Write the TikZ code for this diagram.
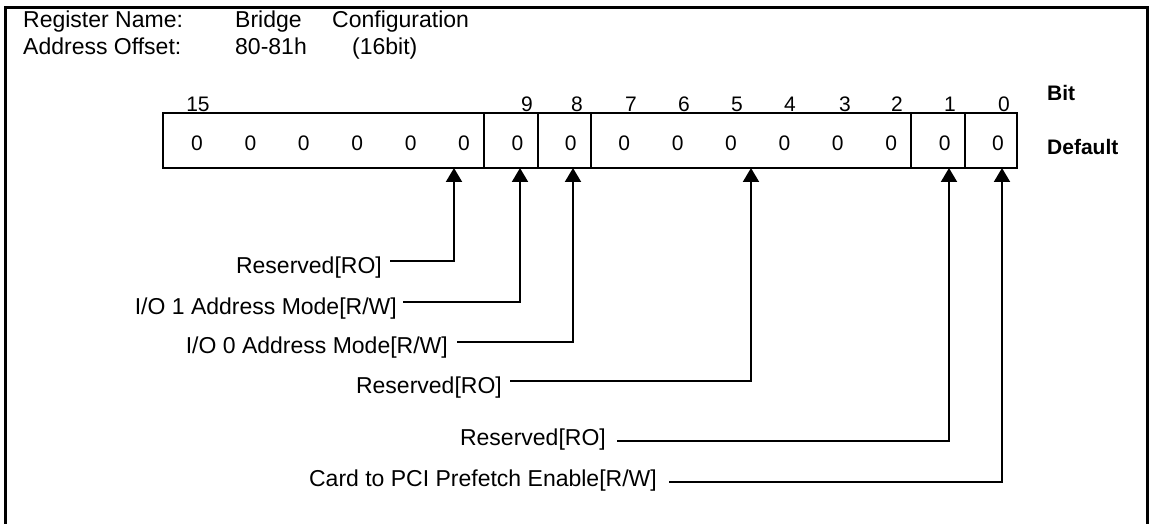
\documentclass[tikz,border=0pt]{standalone}
\usepackage{fontspec}
\setmainfont{Liberation Sans}
\usetikzlibrary{arrows.meta}
\begin{document}
\begin{tikzpicture}[x=1pt,y=-1pt,
  lbl/.style={font=\fontsize{23}{27}\selectfont, inner sep=0pt, anchor=base east},
  hdr/.style={font=\fontsize{23}{27}\selectfont, inner sep=0pt, anchor=base west},
  dig/.style={font=\fontsize{21}{25}\selectfont, inner sep=0pt, anchor=base},
  bld/.style={font=\fontsize{21}{25}\selectfont\bfseries, inner sep=0pt, anchor=base west},
  conn/.style={line width=2pt, -{Triangle[width=16pt,length=14pt]}},
  boxline/.style={line width=2pt}]
\useasboundingbox (0,0) rectangle (1149,524);
% outer frame (open at the bottom)
\draw[line width=3pt] (5,524) -- (5,8) -- (1147,8) -- (1147,524);
% header
\node[hdr] (rn) at (23,28) {Register Name:};
\node[hdr] (rv1) at (235,28) {Bridge};
\node[hdr] (rv2) at (332,28) {Configuration};
\node[hdr] (ao) at (23,55) {Address Offset:};
\node[hdr] (av1) at (235,55) {80-81h};
\node[hdr] (av2) at (352,55) {(16bit)};
% register box
\draw[boxline] (163,113) rectangle (1017,168);
\foreach \x in {484,538,591,911,965} \draw[boxline] (\x,113) -- (\x,168);
% bit numbers
\foreach \b/\x in {15/198,9/527,8/577,7/631,6/684,5/737,4/790,3/845,2/897,1/950,0/1004}
  \node[dig] (b\b) at (\x,112) {\b};
% default values
\foreach \i in {0,...,15} \node[dig] (v\i) at ({197+53.4*\i},150) {0};
\node[bld] (bit) at (1047,101) {Bit};
\node[bld] (def) at (1047,155) {Default};
% field labels
\node[lbl] (l1) at (382,273) {Reserved[RO]};
\node[lbl] (l2) at (397,314) {I/O 1 Address Mode[R/W]};
\node[lbl] (l3) at (448,353) {I/O 0 Address Mode[R/W]};
\node[lbl] (l4) at (502,393) {Reserved[RO]};
\node[lbl] (l5) at (606,445) {Reserved[RO]};
\node[lbl] (l6) at (657,486) {Card to PCI Prefetch Enable[R/W]};
% connector start points and targets
\coordinate (s1) at (390,261); \coordinate (t1) at (454,168);
\coordinate (s2) at (403,302); \coordinate (t2) at (520,168);
\coordinate (s3) at (457,342); \coordinate (t3) at (573,168);
\coordinate (s4) at (510,381); \coordinate (t4) at (751,168);
\coordinate (s5) at (617,441); \coordinate (t5) at (949,168);
\coordinate (s6) at (669,482); \coordinate (t6) at (1002,168);
\foreach \k in {1,...,6} \draw[conn] (s\k) -| (t\k);
\end{tikzpicture}
\end{document}
